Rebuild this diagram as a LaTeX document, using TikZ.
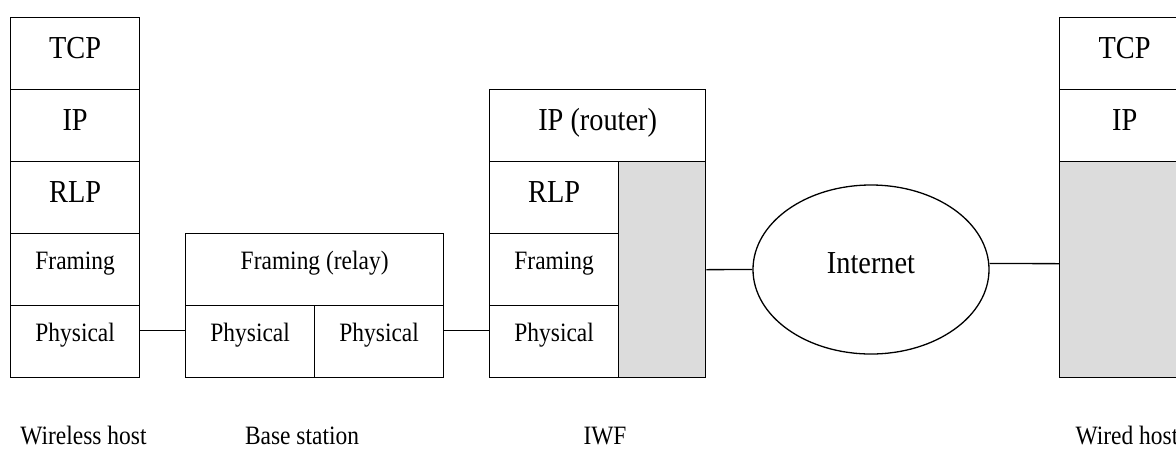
\documentclass[tikz,border=0pt]{standalone}
\usepackage{fontspec}
\setmainfont[FakeStretch=0.885]{Liberation Serif}
\usetikzlibrary{shapes.geometric}
\definecolor{shadegray}{HTML}{DCDCDC}
\begin{document}
\begin{tikzpicture}[x=1pt,y=-1pt,
  box/.style={draw, line width=1.3pt, inner sep=0pt, anchor=north west, minimum height=72pt},
  big/.style={font=\fontsize{32}{36}\selectfont, text height=20pt, text depth=10pt},
  small/.style={font=\fontsize{26.5}{30}\selectfont, text height=12pt, text depth=12pt},
  shade/.style={box, fill=shadegray},
  lbl/.style={font=\fontsize{26.5}{30}\selectfont, anchor=base, inner sep=0pt, text depth=0pt},
  link/.style={line width=1.3pt}]
\useasboundingbox (0,0) rectangle (1176,451);
\clip (0,0) rectangle (1176,451);
% Wireless host
\node[box,big,minimum width=129pt] (wtcp) at (10,17) {TCP};
\node[box,big,minimum width=129pt] (wip) at (10,89) {IP};
\node[box,big,minimum width=129pt] (wrlp) at (10,161) {RLP};
\node[box,small,minimum width=129pt] (wfr) at (10,233) {Framing};
\node[box,small,minimum width=129pt] (wph) at (10,305) {Physical};
% Base station
\node[box,small,minimum width=258pt] (bfr) at (185,233) {Framing (relay)};
\node[box,small,minimum width=129pt] (bph1) at (185,305) {Physical};
\node[box,small,minimum width=129pt] (bph2) at (314,305) {Physical};
% IWF
\node[box,big,minimum width=216pt] (iip) at (489,89) {IP (router)};
\node[box,big,minimum width=129pt] (irlp) at (489,161) {RLP};
\node[box,small,minimum width=129pt] (ifr) at (489,233) {Framing};
\node[box,small,minimum width=129pt] (iph) at (489,305) {Physical};
\node[shade,minimum width=87pt,minimum height=216pt] (igray) at (618,161) {};
% Internet
\node[draw, line width=1.3pt, ellipse, inner sep=0pt, minimum width=236pt, minimum height=169pt,
  font=\fontsize{32}{36}\selectfont, text height=17pt, text depth=10pt] (inet) at (871,269.5) {Internet};
% Wired host
\node[box,big,minimum width=130pt] (rtcp) at (1059,17) {TCP};
\node[box,big,minimum width=130pt] (rip) at (1059,89) {IP};
\node[shade,minimum width=130pt,minimum height=216pt] (rgray) at (1059,161) {};
% Connectors
\draw[link] ([yshift=11pt]wph.east) -- ([yshift=11pt]bph1.west);
\draw[link] ([yshift=11pt]bph2.east) -- ([yshift=11pt]iph.west);
\draw[link] (igray.east) -- (inet.west);
\draw[link] ([yshift=6pt]inet.east) -- ([yshift=6pt]rgray.west);
% Labels
\node[lbl] (lwh) at (83.5,444) {Wireless host};
\node[lbl] (lbs) at (302,444) {Base station};
\node[lbl] (liwf) at (605,444) {IWF};
\node[lbl] (lwd) at (1127,444) {Wired host};
\end{tikzpicture}
\end{document}
